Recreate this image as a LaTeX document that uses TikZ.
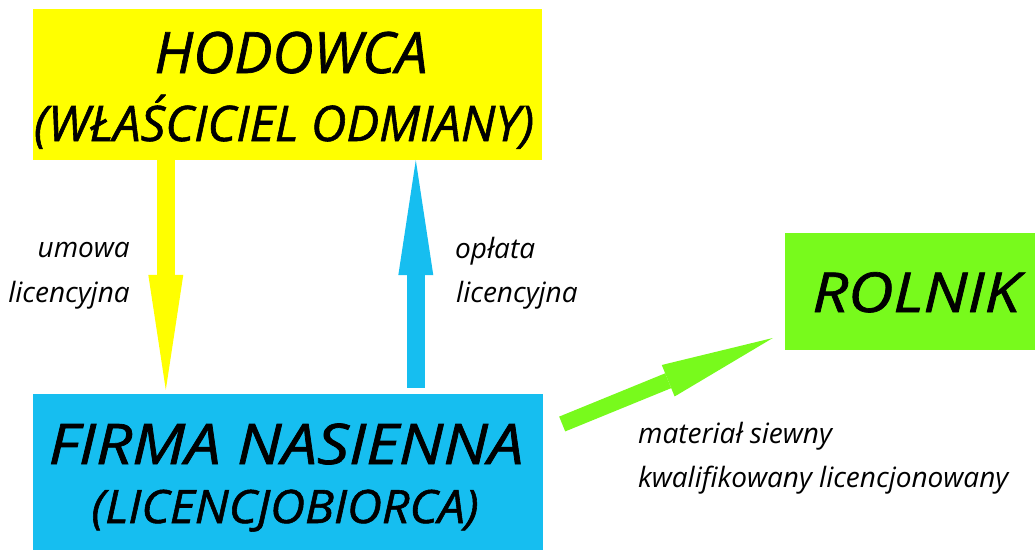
\documentclass[tikz,border=0pt]{standalone}
\usepackage{fontspec}
\setmainfont{Open Sans}
\newfontfamily\titlefont{Open Sans}[FakeBold=1.2]
\usetikzlibrary{arrows.meta,calc}
\definecolor{cYellow}{RGB}{255,255,0}
\definecolor{cBlue}{RGB}{22,190,240}
\definecolor{cGreen}{RGB}{120,250,28}
\tikzset{
  boxnode/.style={rectangle, inner sep=0pt, draw=none},
  titletext/.style={anchor=base, inner sep=0pt},
  labeltext/.style={anchor=base, inner sep=0pt, font=\itshape\fontsize{28}{34}\selectfont},
  bigarrow/.style={line width=18pt, -{Triangle[length=115pt,width=35pt,line width=0pt]}},
}
\begin{document}
\begin{tikzpicture}[x=1pt,y=-1pt]
\useasboundingbox (0,0) rectangle (1035,550);
% boxes
\node[boxnode, fill=cYellow, minimum width=509pt, minimum height=151pt] (hod) at (287.5,84.5) {};
\node[boxnode, fill=cBlue, minimum width=510pt, minimum height=156pt] (firma) at (288,472) {};
\node[boxnode, fill=cGreen, minimum width=250pt, minimum height=117pt] (rolnik) at (910,291.5) {};
% titles
\node[titletext] (hodA) at (291,73) {\titlefont\itshape\fontsize{57}{64}\selectfont HODOWCA};
\node[titletext] (hodB) at (284,141) {\titlefont\itshape\fontsize{49}{56}\selectfont (WŁAŚCICIEL ODMIANY)};
\node[titletext] (firA) at (286,464) {\scalebox{1.13}[1]{\titlefont\itshape\fontsize{56}{62}\selectfont FIRMA NASIENNA}};
\node[titletext] (firB) at (285,523) {\scalebox{1.05}[1]{\titlefont\itshape\fontsize{46}{52}\selectfont (LICENCJOBIORCA)}};
\node[titletext] (rolA) at (916,312) {\scalebox{1.14}[1]{\titlefont\itshape\fontsize{55}{60}\selectfont ROLNIK}};
% arrows
\draw[bigarrow, cYellow] ([xshift=133pt]hod.south west) -- ([xshift=133pt,yshift=4pt]firma.north west);
\draw[bigarrow, cBlue] ([xshift=383pt,yshift=6pt]firma.north west) -- ([xshift=383pt]hod.south west);
\draw[line width=16pt, cGreen, -{Triangle[length=113pt,width=34pt,line width=0pt]}] ([xshift=19pt,yshift=48pt]firma.east) -- ([xshift=-12pt,yshift=-46.5pt]rolnik.west);
% labels
\node[labeltext, anchor=base east] (l1a) at (130,257) {umowa};
\node[labeltext, anchor=base east] (l1b) at (130,302) {licencyjna};
\node[labeltext, anchor=base west] (l2a) at (455,258) {opłata};
\node[labeltext, anchor=base west] (l2b) at (456,302) {licencyjna};
\node[labeltext, anchor=base west] (l3a) at (638,443) {materiał siewny};
\node[labeltext, anchor=base west] (l3b) at (638,487) {kwalifikowany licencjonowany};
\end{tikzpicture}
\end{document}
